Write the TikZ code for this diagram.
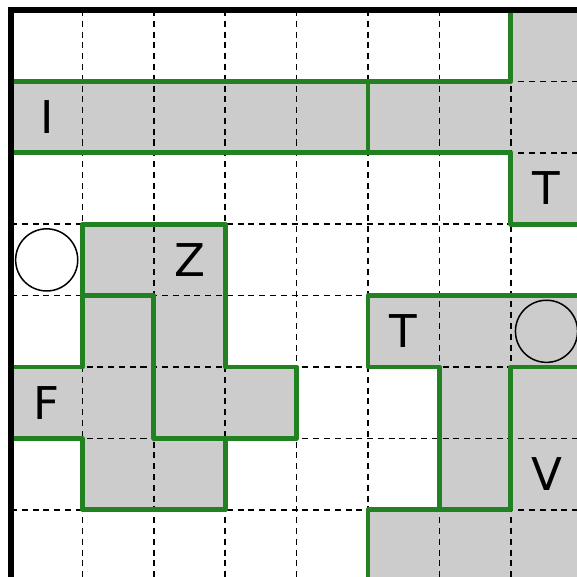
\documentclass[tikz,border=0pt]{standalone}
\usepackage{fontspec}
\setmainfont{DejaVu Sans}
\definecolor{pgreen}{RGB}{34,130,34}
\definecolor{cellgray}{RGB}{204,204,204}
\begin{document}
\begin{tikzpicture}[x=1cm,y=-1cm,
  cellfill/.style={fill=cellgray},
  gridline/.style={black,line width=0.7pt,dash pattern=on 2.4pt off 1.9pt},
  wall/.style={pgreen,line width=1.9pt,line cap=round,line join=round},
  border/.style={black,line width=2pt},
  mark circle/.style={circle,draw=black,line width=0.6pt,minimum size=0.87cm,inner sep=0pt},
  lab/.style={font=\fontsize{18}{18}\selectfont,inner sep=0pt}]
\clip (-0.154,-0.14) rectangle (7.927,7.94);
% shaded cells
\foreach \c/\r in {7/0, 0/1,1/1,2/1,3/1,4/1,5/1,6/1,7/1, 7/2,
  1/3,2/3, 1/4,2/4, 0/5,1/5,2/5,3/5, 1/6,2/6,
  5/4,6/4,7/4, 6/5,7/5, 6/6,7/6, 5/7,6/7,7/7}
  \fill[cellfill] (\c,\r) rectangle ++(1,1);
% dashed grid
\foreach \i in {1,...,7} {
  \draw[gridline] (\i,0) -- (\i,8.2);
  \draw[gridline] (0,\i) -- (8.2,\i);
}
% piece outlines
\draw[wall] (0,1) -- (7,1) -- (7,0);
\draw[wall] (0,2) -- (7,2) -- (7,3) -- (8.2,3);
\draw[wall] (5,1) -- (5,2);
\draw[wall] (1,4) -- (1,3) -- (3,3) -- (3,5) -- (4,5) -- (4,6) -- (2,6) -- (2,4) -- cycle;
\draw[wall] (0,5) -- (1,5) -- (1,4);
\draw[wall] (0,6) -- (1,6) -- (1,7) -- (3,7) -- (3,6);
\draw[wall] (8.2,4) -- (5,4) -- (5,5) -- (6,5) -- (6,7) -- (7,7) -- (7,5) -- (8.2,5);
\draw[wall] (5,8.2) -- (5,7) -- (6,7);
% border
\draw[border] (0,8.2) -- (0,0) -- (8.2,0);
% circles
\node[mark circle] (c1) at (0.5,3.5) {};
\node[mark circle] (c2) at (7.5,4.5) {};
% labels
\node[lab] (lI) at (0.5,1.5) {I};
\node[lab] (lT1) at (7.5,2.5) {T};
\node[lab] (lZ) at (2.5,3.5) {Z};
\node[lab] (lT2) at (5.5,4.5) {T};
\node[lab] (lF) at (0.5,5.5) {F};
\node[lab] (lV) at (7.5,6.5) {V};
\end{tikzpicture}
\end{document}
